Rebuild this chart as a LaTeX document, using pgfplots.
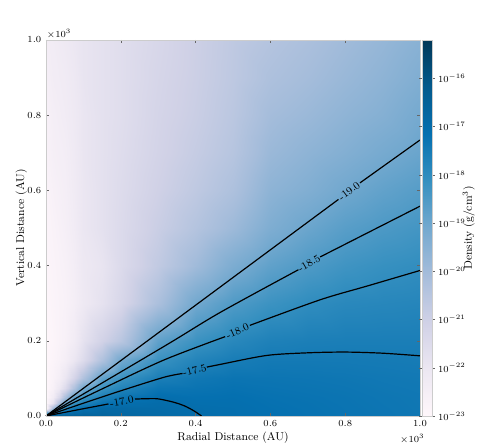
\documentclass[border=0pt]{standalone}
\usepackage{pgfplots}
\pgfplotsset{compat=1.18}

\pgfplotsset{
  colormap={pubu}{rgb255=(255,247,251) rgb255=(236,231,242) rgb255=(208,209,230)
    rgb255=(166,189,219) rgb255=(116,169,207) rgb255=(54,144,192)
    rgb255=(5,112,176) rgb255=(4,90,141) rgb255=(2,56,88)},
  clabel/.style={draw=none, forget plot},
  cline/.style={black, line width=0.9pt, smooth, forget plot},
}
\newcommand{\ticksize}{\fontsize{7.5}{9}\selectfont}
\newcommand{\cbsize}{\fontsize{7}{8}\selectfont}
\newcommand{\labsize}{\fontsize{8.5}{10}\selectfont}
\newcommand{\clsize}{\fontsize{8}{9}\selectfont}

\begin{document}
\begin{tikzpicture}
\useasboundingbox (-34.5pt,-24pt) rectangle (325.5pt,312pt);
\begin{axis}[
    at={(0,0)}, anchor=south west,
    width=280.5pt, height=282pt, scale only axis,
    xmin=0, xmax=1, ymin=0, ymax=1,
    enlargelimits=false,
    axis on top,
    clip mode=individual,
    colormap name=pubu,
    point meta min=-23, point meta max=-15.2,
    xtick={0,0.2,0.4,0.6,0.8,1}, ytick={0,0.2,0.4,0.6,0.8,1},
    xticklabel style={/pgf/number format/.cd, fixed, fixed zerofill, precision=1},
    yticklabel style={/pgf/number format/.cd, fixed, fixed zerofill, precision=1},
    tick label style={font=\ticksize},
    label style={font=\labsize},
    xlabel={Radial Distance (AU)},
    ylabel={Vertical Distance (AU)},
    xlabel style={yshift=3pt},
    ylabel style={yshift=-6.5pt},
    axis line style={black!20},
    tick align=inside,
    major tick length=2.5pt,
    major tick style={black!60, line width=0.4pt},
    colorbar,
    colorbar/width=7.5pt,
    colorbar style={
        at={(parent axis.north east)}, anchor=north west, xshift=-7pt,
        scale only axis, width=7.5pt, height=282pt,
        ymin=-23, ymax=-15.2,
        ytick={-23,-22,-21,-20,-19,-18,-17,-16},
        yticklabels={$10^{-23}$,$10^{-22}$,$10^{-21}$,$10^{-20}$,$10^{-19}$,$10^{-18}$,$10^{-17}$,$10^{-16}$},
        yticklabel style={font=\cbsize, xshift=-1pt},
        ylabel={Density (g/cm$^3$)},
        ylabel style={font=\labsize},
        ylabel shift=-9pt,
        axis line style={black!20},
        tick align=outside,
        major tick length=2pt,
        major tick style={black!60, line width=0.4pt},
    },
]

% log10 density on a coarse (x,y) grid in kAU
\addplot[surf, shader=interp, mesh/ordering=y varies, mesh/rows=16, mesh/cols=16,
         point meta=explicit] table[x=x, y=y, meta=L] {
x y L
0 0 -15.3
0 0.02 -22.9
0 0.035 -22.95
0 0.05 -22.95
0 0.075 -22.95
0 0.1 -22.95
0 0.15 -22.95
0 0.2 -22.95
0 0.3 -22.9
0 0.4 -22.85
0 0.5 -22.8
0 0.6 -22.75
0 0.7 -22.65
0 0.8 -22.6
0 0.9 -22.5
0 1.0 -22.4

0.02 0 -16.0
0.02 0.02 -20.0
0.02 0.035 -21.8
0.02 0.05 -22.3
0.02 0.075 -22.6
0.02 0.1 -22.7
0.02 0.15 -22.8
0.02 0.2 -22.85
0.02 0.3 -22.8
0.02 0.4 -22.75
0.02 0.5 -22.7
0.02 0.6 -22.6
0.02 0.7 -22.5
0.02 0.8 -22.45
0.02 0.9 -22.35
0.02 1.0 -22.3

0.035 0 -16.2
0.035 0.02 -18.45
0.035 0.035 -20.25
0.035 0.05 -21.4
0.035 0.075 -22.1
0.035 0.1 -22.45
0.035 0.15 -22.65
0.035 0.2 -22.72
0.035 0.3 -22.72
0.035 0.4 -22.68
0.035 0.5 -22.6
0.035 0.6 -22.52
0.035 0.7 -22.45
0.035 0.8 -22.38
0.035 0.9 -22.3
0.035 1.0 -22.22

0.05 0 -16.3
0.05 0.02 -17.85
0.05 0.035 -18.9
0.05 0.05 -20.2
0.05 0.075 -21.5
0.05 0.1 -22.0
0.05 0.15 -22.45
0.05 0.2 -22.6
0.05 0.3 -22.65
0.05 0.4 -22.6
0.05 0.5 -22.5
0.05 0.6 -22.45
0.05 0.7 -22.4
0.05 0.8 -22.3
0.05 0.9 -22.25
0.05 1.0 -22.15

0.075 0 -16.4
0.075 0.02 -17.37
0.075 0.035 -18.1
0.075 0.05 -18.8
0.075 0.075 -20.3
0.075 0.1 -21.2
0.075 0.15 -22.0
0.075 0.2 -22.3
0.075 0.3 -22.45
0.075 0.4 -22.4
0.075 0.5 -22.3
0.075 0.6 -22.25
0.075 0.7 -22.2
0.075 0.8 -22.15
0.075 0.9 -22.1
0.075 1.0 -22.02

0.1 0 -16.5
0.1 0.02 -17.1
0.1 0.035 -17.7
0.1 0.05 -18.2
0.1 0.075 -19.1
0.1 0.1 -20.3
0.1 0.15 -21.5
0.1 0.2 -21.8
0.1 0.3 -22.15
0.1 0.4 -22.1
0.1 0.5 -22.0
0.1 0.6 -22.0
0.1 0.7 -21.95
0.1 0.8 -21.95
0.1 0.9 -21.9
0.1 1.0 -21.9

0.15 0 -16.6
0.15 0.02 -16.85
0.15 0.035 -17.25
0.15 0.05 -17.62
0.15 0.075 -18.2
0.15 0.1 -18.8
0.15 0.15 -20.3
0.15 0.2 -21.1
0.15 0.3 -21.8
0.15 0.4 -21.9
0.15 0.5 -21.75
0.15 0.6 -21.75
0.15 0.7 -21.75
0.15 0.8 -21.75
0.15 0.9 -21.75
0.15 1.0 -21.75

0.2 0 -16.7
0.2 0.02 -16.85
0.2 0.035 -17.07
0.2 0.05 -17.3
0.2 0.075 -17.75
0.2 0.1 -18.2
0.2 0.15 -19.07
0.2 0.2 -20.5
0.2 0.3 -21.3
0.2 0.4 -21.45
0.2 0.5 -21.45
0.2 0.6 -21.5
0.2 0.7 -21.55
0.2 0.8 -21.6
0.2 0.9 -21.6
0.2 1.0 -21.6

0.3 0 -16.85
0.3 0.02 -16.92
0.3 0.035 -16.98
0.3 0.05 -17.05
0.3 0.075 -17.3
0.3 0.1 -17.58
0.3 0.15 -18.18
0.3 0.2 -18.78
0.3 0.3 -20.2
0.3 0.4 -20.7
0.3 0.5 -20.9
0.3 0.6 -21.05
0.3 0.7 -21.15
0.3 0.8 -21.2
0.3 0.9 -21.25
0.3 1.0 -21.3

0.4 0 -16.98
0.4 0.02 -17.03
0.4 0.035 -17.09
0.4 0.05 -17.15
0.4 0.075 -17.26
0.4 0.1 -17.38
0.4 0.15 -17.75
0.4 0.2 -18.2
0.4 0.3 -19.07
0.4 0.4 -19.95
0.4 0.5 -20.4
0.4 0.6 -20.65
0.4 0.7 -20.8
0.4 0.8 -20.9
0.4 0.9 -20.95
0.4 1.0 -20.97

0.5 0 -17.07
0.5 0.02 -17.08
0.5 0.035 -17.1
0.5 0.05 -17.13
0.5 0.075 -17.2
0.5 0.1 -17.28
0.5 0.15 -17.53
0.5 0.2 -17.86
0.5 0.3 -18.53
0.5 0.4 -19.25
0.5 0.5 -19.9
0.5 0.6 -20.25
0.5 0.7 -20.45
0.5 0.8 -20.55
0.5 0.9 -20.62
0.5 1.0 -20.65

0.6 0 -17.15
0.6 0.02 -17.16
0.6 0.035 -17.18
0.6 0.05 -17.2
0.6 0.075 -17.25
0.6 0.1 -17.3
0.6 0.15 -17.44
0.6 0.2 -17.66
0.6 0.3 -18.22
0.6 0.4 -18.78
0.6 0.5 -19.3
0.6 0.6 -19.6
0.6 0.7 -19.85
0.6 0.8 -20.05
0.6 0.9 -20.25
0.6 1.0 -20.4

0.7 0 -17.2
0.7 0.02 -17.21
0.7 0.035 -17.22
0.7 0.05 -17.24
0.7 0.075 -17.28
0.7 0.1 -17.32
0.7 0.15 -17.44
0.7 0.2 -17.6
0.7 0.3 -18.01
0.7 0.4 -18.5
0.7 0.5 -18.95
0.7 0.6 -19.35
0.7 0.7 -19.6
0.7 0.8 -19.85
0.7 0.9 -20.05
0.7 1.0 -20.2

0.8 0 -17.25
0.8 0.02 -17.26
0.8 0.035 -17.27
0.8 0.05 -17.28
0.8 0.075 -17.31
0.8 0.1 -17.35
0.8 0.15 -17.45
0.8 0.2 -17.58
0.8 0.3 -17.88
0.8 0.4 -18.27
0.8 0.5 -18.66
0.8 0.6 -19.05
0.8 0.7 -19.38
0.8 0.8 -19.62
0.8 0.9 -19.82
0.8 1.0 -19.97

0.9 0 -17.3
0.9 0.02 -17.31
0.9 0.035 -17.32
0.9 0.05 -17.33
0.9 0.075 -17.36
0.9 0.1 -17.39
0.9 0.15 -17.47
0.9 0.2 -17.58
0.9 0.3 -17.84
0.9 0.4 -18.13
0.9 0.5 -18.47
0.9 0.6 -18.81
0.9 0.7 -19.14
0.9 0.8 -19.42
0.9 0.9 -19.6
0.9 1.0 -19.75

1.0 0 -17.35
1.0 0.02 -17.36
1.0 0.035 -17.365
1.0 0.05 -17.37
1.0 0.075 -17.39
1.0 0.1 -17.42
1.0 0.15 -17.49
1.0 0.2 -17.58
1.0 0.3 -17.8
1.0 0.4 -18.04
1.0 0.5 -18.33
1.0 0.6 -18.62
1.0 0.7 -18.93
1.0 0.8 -19.12
1.0 0.9 -19.33
1.0 1.0 -19.5
};

% contour lines, split where the inline labels sit
\addplot[cline] coordinates {(0,0) (0.08,0.0155) (0.167,0.032)};
\addplot[cline] coordinates {(0.238,0.045) (0.27,0.046) (0.30,0.0455) (0.34,0.037) (0.37,0.027) (0.395,0.014) (0.41,0.004) (0.416,0)};
\addplot[clabel] coordinates {(0.167,0.032) (0.238,0.045)} node[midway, sloped, font=\clsize, inner sep=0pt] {-17.0};

\addplot[cline] coordinates {(0,0) (0.1,0.034) (0.2,0.067) (0.3155,0.103) (0.365,0.113)};
\addplot[cline] coordinates {(0.43,0.13) (0.465,0.137) (0.59,0.161) (0.7,0.168) (0.8,0.170) (0.9,0.167) (1.0,0.160)};
\addplot[clabel] coordinates {(0.365,0.113) (0.43,0.13)} node[midway, sloped, font=\clsize, inner sep=0pt] {-17.5};

\addplot[cline] coordinates {(0,0) (0.15,0.072) (0.3155,0.149) (0.479,0.211)};
\addplot[cline] coordinates {(0.545,0.241) (0.733,0.309) (0.86,0.346) (1.0,0.387)};
\addplot[clabel] coordinates {(0.479,0.211) (0.545,0.241)} node[midway, sloped, font=\clsize, inner sep=0pt] {-18.0};

\addplot[cline] coordinates {(0,0) (0.3155,0.185) (0.465,0.275) (0.675,0.389)};
\addplot[cline] coordinates {(0.733,0.423) (1.0,0.558)};
\addplot[clabel] coordinates {(0.675,0.389) (0.733,0.423)} node[midway, sloped, font=\clsize, inner sep=0pt] {-18.5};

\addplot[cline] coordinates {(0,0) (0.782,0.576)};
\addplot[cline] coordinates {(0.8396,0.62) (1.0,0.734)};
\addplot[clabel] coordinates {(0.782,0.576) (0.8396,0.62)} node[midway, sloped, font=\clsize, inner sep=0pt] {-19.0};

\node[anchor=south west, font=\fontsize{7}{8}\selectfont, inner sep=0.5pt] at (rel axis cs:0,1) {$\times10^{3}$};
\node[anchor=north east, font=\fontsize{7}{8}\selectfont, inner sep=0.5pt] at (rel axis cs:1,0) [yshift=-13pt, xshift=4pt] {$\times10^{3}$};
\end{axis}
\end{tikzpicture}
\end{document}
